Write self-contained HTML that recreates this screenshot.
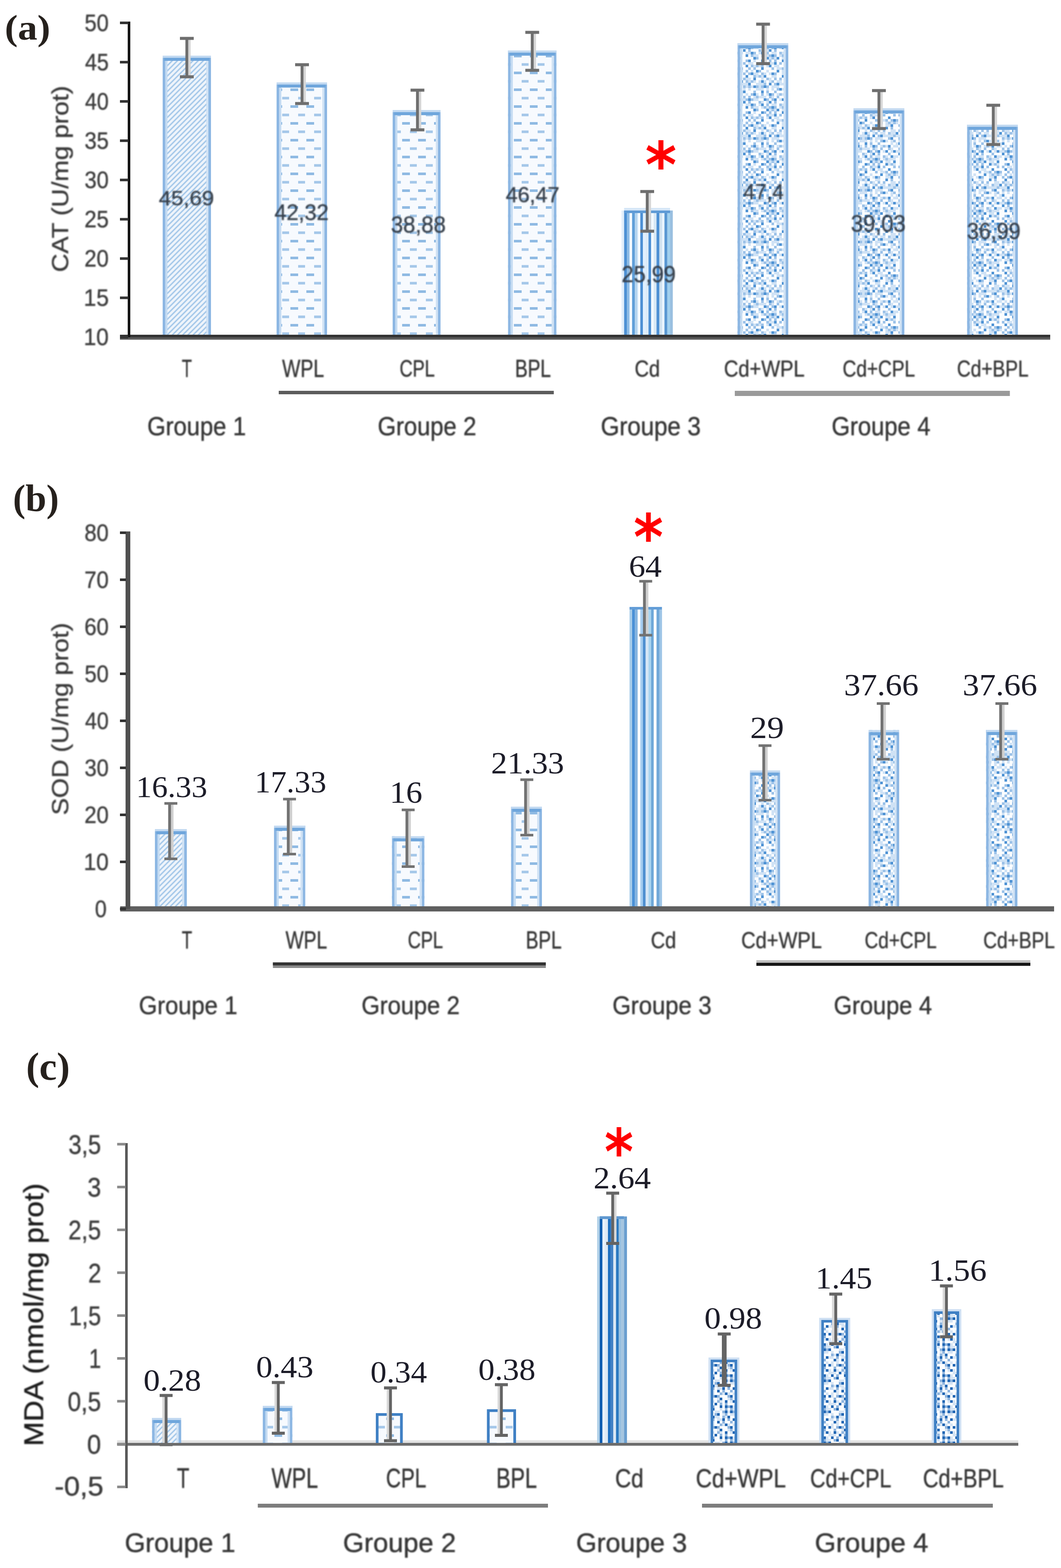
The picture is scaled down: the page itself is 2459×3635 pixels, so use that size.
<!DOCTYPE html>
<html lang="fr">
<head>
<meta charset="utf-8">
<title>CAT, SOD, MDA</title>
<style>
html,body{margin:0;padding:0;background:#fff}
body{width:2459px;height:3635px;overflow:hidden}
svg{display:block}
text{font-family:"Liberation Sans",sans-serif;font-size:100px;white-space:pre}
text.sf{font-family:"Liberation Serif",serif}
text.dv{font-family:"DejaVu Sans","Liberation Sans",sans-serif}
</style>
</head>
<body>
<svg width="2459" height="3635" viewBox="0 0 2459 3635">
<defs>
<filter id="soft" x="0" y="0" width="2459" height="3635" filterUnits="userSpaceOnUse" color-interpolation-filters="sRGB"><feGaussianBlur stdDeviation="1.8"/></filter>
<pattern id="p1" width="12" height="12" patternUnits="userSpaceOnUse">
<rect width="12" height="12" fill="#eef4fb"/>
<path d="M-3 3L3 -3M0 12L12 0M9 15L15 9" stroke="#a6c9ea" stroke-width="3.2"/>
</pattern>
<pattern id="p2" width="37" height="39" patternUnits="userSpaceOnUse" x="4" y="6">
<rect width="37" height="39" fill="#f7fafe"/>
<rect x="3" y="4" width="18" height="6" fill="#8fbae3"/>
<rect x="21" y="23.500" width="18" height="6" fill="#a4c7e9"/>
</pattern>
<pattern id="p4" width="120" height="120" patternUnits="userSpaceOnUse">
<rect width="120" height="120" fill="#fbfdff"/>
<rect x="6" y="0" width="6" height="6" fill="#9cc2e8"/>
<rect x="12" y="0" width="6" height="6" fill="#cfe2f5"/>
<rect x="24" y="0" width="6" height="6" fill="#4f93d4"/>
<rect x="30" y="0" width="6" height="6" fill="#cfe2f5"/>
<rect x="36" y="0" width="6" height="6" fill="#cfe2f5"/>
<rect x="48" y="0" width="6" height="6" fill="#cfe2f5"/>
<rect x="54" y="0" width="6" height="6" fill="#cfe2f5"/>
<rect x="60" y="0" width="6" height="6" fill="#4f93d4"/>
<rect x="66" y="0" width="6" height="6" fill="#9cc2e8"/>
<rect x="78" y="0" width="6" height="6" fill="#cfe2f5"/>
<rect x="84" y="0" width="6" height="6" fill="#4f93d4"/>
<rect x="96" y="0" width="6" height="6" fill="#9cc2e8"/>
<rect x="108" y="0" width="6" height="6" fill="#cfe2f5"/>
<rect x="114" y="0" width="6" height="6" fill="#cfe2f5"/>
<rect x="6" y="6" width="6" height="6" fill="#cfe2f5"/>
<rect x="12" y="6" width="6" height="6" fill="#9cc2e8"/>
<rect x="18" y="6" width="6" height="6" fill="#cfe2f5"/>
<rect x="24" y="6" width="6" height="6" fill="#cfe2f5"/>
<rect x="30" y="6" width="6" height="6" fill="#cfe2f5"/>
<rect x="48" y="6" width="6" height="6" fill="#4f93d4"/>
<rect x="60" y="6" width="6" height="6" fill="#9cc2e8"/>
<rect x="66" y="6" width="6" height="6" fill="#cfe2f5"/>
<rect x="72" y="6" width="6" height="6" fill="#cfe2f5"/>
<rect x="84" y="6" width="6" height="6" fill="#cfe2f5"/>
<rect x="90" y="6" width="6" height="6" fill="#9cc2e8"/>
<rect x="96" y="6" width="6" height="6" fill="#cfe2f5"/>
<rect x="102" y="6" width="6" height="6" fill="#9cc2e8"/>
<rect x="108" y="6" width="6" height="6" fill="#4f93d4"/>
<rect x="114" y="6" width="6" height="6" fill="#9cc2e8"/>
<rect x="0" y="12" width="6" height="6" fill="#4f93d4"/>
<rect x="12" y="12" width="6" height="6" fill="#cfe2f5"/>
<rect x="18" y="12" width="6" height="6" fill="#cfe2f5"/>
<rect x="30" y="12" width="6" height="6" fill="#4f93d4"/>
<rect x="66" y="12" width="6" height="6" fill="#4f93d4"/>
<rect x="72" y="12" width="6" height="6" fill="#9cc2e8"/>
<rect x="96" y="12" width="6" height="6" fill="#4f93d4"/>
<rect x="102" y="12" width="6" height="6" fill="#cfe2f5"/>
<rect x="108" y="12" width="6" height="6" fill="#9cc2e8"/>
<rect x="114" y="12" width="6" height="6" fill="#cfe2f5"/>
<rect x="12" y="18" width="6" height="6" fill="#4f93d4"/>
<rect x="18" y="18" width="6" height="6" fill="#cfe2f5"/>
<rect x="24" y="18" width="6" height="6" fill="#9cc2e8"/>
<rect x="30" y="18" width="6" height="6" fill="#cfe2f5"/>
<rect x="48" y="18" width="6" height="6" fill="#9cc2e8"/>
<rect x="54" y="18" width="6" height="6" fill="#4f93d4"/>
<rect x="66" y="18" width="6" height="6" fill="#cfe2f5"/>
<rect x="84" y="18" width="6" height="6" fill="#4f93d4"/>
<rect x="90" y="18" width="6" height="6" fill="#9cc2e8"/>
<rect x="102" y="18" width="6" height="6" fill="#9cc2e8"/>
<rect x="114" y="18" width="6" height="6" fill="#9cc2e8"/>
<rect x="6" y="24" width="6" height="6" fill="#9cc2e8"/>
<rect x="30" y="24" width="6" height="6" fill="#9cc2e8"/>
<rect x="42" y="24" width="6" height="6" fill="#9cc2e8"/>
<rect x="54" y="24" width="6" height="6" fill="#cfe2f5"/>
<rect x="60" y="24" width="6" height="6" fill="#cfe2f5"/>
<rect x="78" y="24" width="6" height="6" fill="#9cc2e8"/>
<rect x="96" y="24" width="6" height="6" fill="#9cc2e8"/>
<rect x="102" y="24" width="6" height="6" fill="#cfe2f5"/>
<rect x="108" y="24" width="6" height="6" fill="#cfe2f5"/>
<rect x="114" y="24" width="6" height="6" fill="#4f93d4"/>
<rect x="0" y="30" width="6" height="6" fill="#cfe2f5"/>
<rect x="18" y="30" width="6" height="6" fill="#4f93d4"/>
<rect x="48" y="30" width="6" height="6" fill="#4f93d4"/>
<rect x="60" y="30" width="6" height="6" fill="#9cc2e8"/>
<rect x="66" y="30" width="6" height="6" fill="#cfe2f5"/>
<rect x="72" y="30" width="6" height="6" fill="#9cc2e8"/>
<rect x="78" y="30" width="6" height="6" fill="#cfe2f5"/>
<rect x="84" y="30" width="6" height="6" fill="#9cc2e8"/>
<rect x="96" y="30" width="6" height="6" fill="#cfe2f5"/>
<rect x="102" y="30" width="6" height="6" fill="#4f93d4"/>
<rect x="114" y="30" width="6" height="6" fill="#cfe2f5"/>
<rect x="0" y="36" width="6" height="6" fill="#cfe2f5"/>
<rect x="6" y="36" width="6" height="6" fill="#cfe2f5"/>
<rect x="12" y="36" width="6" height="6" fill="#9cc2e8"/>
<rect x="24" y="36" width="6" height="6" fill="#9cc2e8"/>
<rect x="30" y="36" width="6" height="6" fill="#4f93d4"/>
<rect x="36" y="36" width="6" height="6" fill="#9cc2e8"/>
<rect x="54" y="36" width="6" height="6" fill="#9cc2e8"/>
<rect x="66" y="36" width="6" height="6" fill="#9cc2e8"/>
<rect x="84" y="36" width="6" height="6" fill="#4f93d4"/>
<rect x="108" y="36" width="6" height="6" fill="#9cc2e8"/>
<rect x="0" y="42" width="6" height="6" fill="#4f93d4"/>
<rect x="12" y="42" width="6" height="6" fill="#cfe2f5"/>
<rect x="18" y="42" width="6" height="6" fill="#9cc2e8"/>
<rect x="24" y="42" width="6" height="6" fill="#cfe2f5"/>
<rect x="30" y="42" width="6" height="6" fill="#9cc2e8"/>
<rect x="36" y="42" width="6" height="6" fill="#cfe2f5"/>
<rect x="48" y="42" width="6" height="6" fill="#9cc2e8"/>
<rect x="60" y="42" width="6" height="6" fill="#cfe2f5"/>
<rect x="72" y="42" width="6" height="6" fill="#4f93d4"/>
<rect x="78" y="42" width="6" height="6" fill="#9cc2e8"/>
<rect x="96" y="42" width="6" height="6" fill="#cfe2f5"/>
<rect x="12" y="48" width="6" height="6" fill="#cfe2f5"/>
<rect x="18" y="48" width="6" height="6" fill="#cfe2f5"/>
<rect x="24" y="48" width="6" height="6" fill="#4f93d4"/>
<rect x="42" y="48" width="6" height="6" fill="#9cc2e8"/>
<rect x="54" y="48" width="6" height="6" fill="#9cc2e8"/>
<rect x="60" y="48" width="6" height="6" fill="#4f93d4"/>
<rect x="66" y="48" width="6" height="6" fill="#cfe2f5"/>
<rect x="72" y="48" width="6" height="6" fill="#cfe2f5"/>
<rect x="84" y="48" width="6" height="6" fill="#9cc2e8"/>
<rect x="90" y="48" width="6" height="6" fill="#cfe2f5"/>
<rect x="102" y="48" width="6" height="6" fill="#cfe2f5"/>
<rect x="108" y="48" width="6" height="6" fill="#4f93d4"/>
<rect x="114" y="48" width="6" height="6" fill="#9cc2e8"/>
<rect x="12" y="54" width="6" height="6" fill="#4f93d4"/>
<rect x="24" y="54" width="6" height="6" fill="#9cc2e8"/>
<rect x="48" y="54" width="6" height="6" fill="#4f93d4"/>
<rect x="66" y="54" width="6" height="6" fill="#9cc2e8"/>
<rect x="72" y="54" width="6" height="6" fill="#cfe2f5"/>
<rect x="78" y="54" width="6" height="6" fill="#9cc2e8"/>
<rect x="84" y="54" width="6" height="6" fill="#cfe2f5"/>
<rect x="90" y="54" width="6" height="6" fill="#4f93d4"/>
<rect x="108" y="54" width="6" height="6" fill="#cfe2f5"/>
<rect x="114" y="54" width="6" height="6" fill="#cfe2f5"/>
<rect x="6" y="60" width="6" height="6" fill="#9cc2e8"/>
<rect x="24" y="60" width="6" height="6" fill="#cfe2f5"/>
<rect x="30" y="60" width="6" height="6" fill="#cfe2f5"/>
<rect x="42" y="60" width="6" height="6" fill="#9cc2e8"/>
<rect x="48" y="60" width="6" height="6" fill="#cfe2f5"/>
<rect x="54" y="60" width="6" height="6" fill="#cfe2f5"/>
<rect x="66" y="60" width="6" height="6" fill="#4f93d4"/>
<rect x="84" y="60" width="6" height="6" fill="#cfe2f5"/>
<rect x="96" y="60" width="6" height="6" fill="#9cc2e8"/>
<rect x="102" y="60" width="6" height="6" fill="#cfe2f5"/>
<rect x="114" y="60" width="6" height="6" fill="#9cc2e8"/>
<rect x="0" y="66" width="6" height="6" fill="#cfe2f5"/>
<rect x="6" y="66" width="6" height="6" fill="#cfe2f5"/>
<rect x="18" y="66" width="6" height="6" fill="#9cc2e8"/>
<rect x="24" y="66" width="6" height="6" fill="#cfe2f5"/>
<rect x="30" y="66" width="6" height="6" fill="#cfe2f5"/>
<rect x="36" y="66" width="6" height="6" fill="#4f93d4"/>
<rect x="48" y="66" width="6" height="6" fill="#9cc2e8"/>
<rect x="54" y="66" width="6" height="6" fill="#cfe2f5"/>
<rect x="60" y="66" width="6" height="6" fill="#9cc2e8"/>
<rect x="66" y="66" width="6" height="6" fill="#cfe2f5"/>
<rect x="78" y="66" width="6" height="6" fill="#cfe2f5"/>
<rect x="84" y="66" width="6" height="6" fill="#4f93d4"/>
<rect x="90" y="66" width="6" height="6" fill="#cfe2f5"/>
<rect x="102" y="66" width="6" height="6" fill="#cfe2f5"/>
<rect x="108" y="66" width="6" height="6" fill="#9cc2e8"/>
<rect x="0" y="72" width="6" height="6" fill="#4f93d4"/>
<rect x="6" y="72" width="6" height="6" fill="#cfe2f5"/>
<rect x="12" y="72" width="6" height="6" fill="#cfe2f5"/>
<rect x="18" y="72" width="6" height="6" fill="#cfe2f5"/>
<rect x="24" y="72" width="6" height="6" fill="#cfe2f5"/>
<rect x="30" y="72" width="6" height="6" fill="#9cc2e8"/>
<rect x="36" y="72" width="6" height="6" fill="#cfe2f5"/>
<rect x="42" y="72" width="6" height="6" fill="#cfe2f5"/>
<rect x="48" y="72" width="6" height="6" fill="#cfe2f5"/>
<rect x="54" y="72" width="6" height="6" fill="#4f93d4"/>
<rect x="72" y="72" width="6" height="6" fill="#cfe2f5"/>
<rect x="78" y="72" width="6" height="6" fill="#cfe2f5"/>
<rect x="84" y="72" width="6" height="6" fill="#cfe2f5"/>
<rect x="90" y="72" width="6" height="6" fill="#9cc2e8"/>
<rect x="102" y="72" width="6" height="6" fill="#4f93d4"/>
<rect x="114" y="72" width="6" height="6" fill="#9cc2e8"/>
<rect x="0" y="78" width="6" height="6" fill="#cfe2f5"/>
<rect x="18" y="78" width="6" height="6" fill="#9cc2e8"/>
<rect x="24" y="78" width="6" height="6" fill="#4f93d4"/>
<rect x="42" y="78" width="6" height="6" fill="#9cc2e8"/>
<rect x="48" y="78" width="6" height="6" fill="#cfe2f5"/>
<rect x="54" y="78" width="6" height="6" fill="#9cc2e8"/>
<rect x="60" y="78" width="6" height="6" fill="#cfe2f5"/>
<rect x="66" y="78" width="6" height="6" fill="#4f93d4"/>
<rect x="72" y="78" width="6" height="6" fill="#9cc2e8"/>
<rect x="78" y="78" width="6" height="6" fill="#cfe2f5"/>
<rect x="84" y="78" width="6" height="6" fill="#9cc2e8"/>
<rect x="90" y="78" width="6" height="6" fill="#4f93d4"/>
<rect x="96" y="78" width="6" height="6" fill="#9cc2e8"/>
<rect x="108" y="78" width="6" height="6" fill="#cfe2f5"/>
<rect x="114" y="78" width="6" height="6" fill="#cfe2f5"/>
<rect x="0" y="84" width="6" height="6" fill="#9cc2e8"/>
<rect x="6" y="84" width="6" height="6" fill="#4f93d4"/>
<rect x="12" y="84" width="6" height="6" fill="#cfe2f5"/>
<rect x="24" y="84" width="6" height="6" fill="#cfe2f5"/>
<rect x="30" y="84" width="6" height="6" fill="#9cc2e8"/>
<rect x="42" y="84" width="6" height="6" fill="#cfe2f5"/>
<rect x="54" y="84" width="6" height="6" fill="#cfe2f5"/>
<rect x="72" y="84" width="6" height="6" fill="#cfe2f5"/>
<rect x="78" y="84" width="6" height="6" fill="#cfe2f5"/>
<rect x="84" y="84" width="6" height="6" fill="#cfe2f5"/>
<rect x="96" y="84" width="6" height="6" fill="#cfe2f5"/>
<rect x="108" y="84" width="6" height="6" fill="#cfe2f5"/>
<rect x="24" y="90" width="6" height="6" fill="#cfe2f5"/>
<rect x="36" y="90" width="6" height="6" fill="#cfe2f5"/>
<rect x="42" y="90" width="6" height="6" fill="#4f93d4"/>
<rect x="66" y="90" width="6" height="6" fill="#9cc2e8"/>
<rect x="84" y="90" width="6" height="6" fill="#4f93d4"/>
<rect x="96" y="90" width="6" height="6" fill="#9cc2e8"/>
<rect x="114" y="90" width="6" height="6" fill="#9cc2e8"/>
<rect x="0" y="96" width="6" height="6" fill="#cfe2f5"/>
<rect x="6" y="96" width="6" height="6" fill="#9cc2e8"/>
<rect x="12" y="96" width="6" height="6" fill="#cfe2f5"/>
<rect x="18" y="96" width="6" height="6" fill="#4f93d4"/>
<rect x="30" y="96" width="6" height="6" fill="#cfe2f5"/>
<rect x="36" y="96" width="6" height="6" fill="#cfe2f5"/>
<rect x="48" y="96" width="6" height="6" fill="#cfe2f5"/>
<rect x="60" y="96" width="6" height="6" fill="#9cc2e8"/>
<rect x="66" y="96" width="6" height="6" fill="#4f93d4"/>
<rect x="72" y="96" width="6" height="6" fill="#cfe2f5"/>
<rect x="84" y="96" width="6" height="6" fill="#9cc2e8"/>
<rect x="96" y="96" width="6" height="6" fill="#cfe2f5"/>
<rect x="102" y="96" width="6" height="6" fill="#4f93d4"/>
<rect x="108" y="96" width="6" height="6" fill="#9cc2e8"/>
<rect x="0" y="102" width="6" height="6" fill="#9cc2e8"/>
<rect x="18" y="102" width="6" height="6" fill="#9cc2e8"/>
<rect x="24" y="102" width="6" height="6" fill="#cfe2f5"/>
<rect x="42" y="102" width="6" height="6" fill="#9cc2e8"/>
<rect x="54" y="102" width="6" height="6" fill="#9cc2e8"/>
<rect x="66" y="102" width="6" height="6" fill="#cfe2f5"/>
<rect x="72" y="102" width="6" height="6" fill="#9cc2e8"/>
<rect x="78" y="102" width="6" height="6" fill="#cfe2f5"/>
<rect x="84" y="102" width="6" height="6" fill="#cfe2f5"/>
<rect x="90" y="102" width="6" height="6" fill="#cfe2f5"/>
<rect x="102" y="102" width="6" height="6" fill="#9cc2e8"/>
<rect x="108" y="102" width="6" height="6" fill="#cfe2f5"/>
<rect x="6" y="108" width="6" height="6" fill="#cfe2f5"/>
<rect x="12" y="108" width="6" height="6" fill="#4f93d4"/>
<rect x="24" y="108" width="6" height="6" fill="#cfe2f5"/>
<rect x="30" y="108" width="6" height="6" fill="#4f93d4"/>
<rect x="36" y="108" width="6" height="6" fill="#cfe2f5"/>
<rect x="42" y="108" width="6" height="6" fill="#cfe2f5"/>
<rect x="48" y="108" width="6" height="6" fill="#9cc2e8"/>
<rect x="54" y="108" width="6" height="6" fill="#4f93d4"/>
<rect x="60" y="108" width="6" height="6" fill="#9cc2e8"/>
<rect x="66" y="108" width="6" height="6" fill="#cfe2f5"/>
<rect x="72" y="108" width="6" height="6" fill="#cfe2f5"/>
<rect x="90" y="108" width="6" height="6" fill="#4f93d4"/>
<rect x="96" y="108" width="6" height="6" fill="#9cc2e8"/>
<rect x="108" y="108" width="6" height="6" fill="#9cc2e8"/>
<rect x="114" y="108" width="6" height="6" fill="#4f93d4"/>
<rect x="18" y="114" width="6" height="6" fill="#9cc2e8"/>
<rect x="42" y="114" width="6" height="6" fill="#4f93d4"/>
<rect x="54" y="114" width="6" height="6" fill="#9cc2e8"/>
<rect x="78" y="114" width="6" height="6" fill="#9cc2e8"/>
<rect x="84" y="114" width="6" height="6" fill="#cfe2f5"/>
<rect x="96" y="114" width="6" height="6" fill="#cfe2f5"/>
<rect x="102" y="114" width="6" height="6" fill="#4f93d4"/>
<rect x="114" y="114" width="6" height="6" fill="#9cc2e8"/>
</pattern>
<pattern id="p4c" width="72" height="72" patternUnits="userSpaceOnUse">
<rect width="72" height="72" fill="#fbfdff"/>
<rect x="6" y="0" width="6" height="6" fill="#d5e4f4"/>
<rect x="12" y="0" width="6" height="6" fill="#2267b4"/>
<rect x="30" y="0" width="6" height="6" fill="#d5e4f4"/>
<rect x="36" y="0" width="6" height="6" fill="#8fb5de"/>
<rect x="60" y="0" width="6" height="6" fill="#8fb5de"/>
<rect x="6" y="6" width="6" height="6" fill="#8fb5de"/>
<rect x="12" y="6" width="6" height="6" fill="#d5e4f4"/>
<rect x="24" y="6" width="6" height="6" fill="#2267b4"/>
<rect x="36" y="6" width="6" height="6" fill="#d5e4f4"/>
<rect x="42" y="6" width="6" height="6" fill="#2267b4"/>
<rect x="48" y="6" width="6" height="6" fill="#d5e4f4"/>
<rect x="60" y="6" width="6" height="6" fill="#2267b4"/>
<rect x="66" y="6" width="6" height="6" fill="#d5e4f4"/>
<rect x="0" y="12" width="6" height="6" fill="#2267b4"/>
<rect x="12" y="12" width="6" height="6" fill="#8fb5de"/>
<rect x="24" y="12" width="6" height="6" fill="#8fb5de"/>
<rect x="48" y="12" width="6" height="6" fill="#d5e4f4"/>
<rect x="54" y="12" width="6" height="6" fill="#d5e4f4"/>
<rect x="60" y="12" width="6" height="6" fill="#d5e4f4"/>
<rect x="12" y="18" width="6" height="6" fill="#2267b4"/>
<rect x="24" y="18" width="6" height="6" fill="#2267b4"/>
<rect x="30" y="18" width="6" height="6" fill="#8fb5de"/>
<rect x="36" y="18" width="6" height="6" fill="#2267b4"/>
<rect x="42" y="18" width="6" height="6" fill="#d5e4f4"/>
<rect x="54" y="18" width="6" height="6" fill="#2267b4"/>
<rect x="66" y="18" width="6" height="6" fill="#8fb5de"/>
<rect x="12" y="24" width="6" height="6" fill="#d5e4f4"/>
<rect x="24" y="24" width="6" height="6" fill="#8fb5de"/>
<rect x="36" y="24" width="6" height="6" fill="#8fb5de"/>
<rect x="42" y="24" width="6" height="6" fill="#d5e4f4"/>
<rect x="48" y="24" width="6" height="6" fill="#d5e4f4"/>
<rect x="60" y="24" width="6" height="6" fill="#8fb5de"/>
<rect x="66" y="24" width="6" height="6" fill="#2267b4"/>
<rect x="0" y="30" width="6" height="6" fill="#d5e4f4"/>
<rect x="6" y="30" width="6" height="6" fill="#d5e4f4"/>
<rect x="18" y="30" width="6" height="6" fill="#8fb5de"/>
<rect x="24" y="30" width="6" height="6" fill="#2267b4"/>
<rect x="30" y="30" width="6" height="6" fill="#d5e4f4"/>
<rect x="36" y="30" width="6" height="6" fill="#2267b4"/>
<rect x="42" y="30" width="6" height="6" fill="#8fb5de"/>
<rect x="48" y="30" width="6" height="6" fill="#2267b4"/>
<rect x="0" y="36" width="6" height="6" fill="#8fb5de"/>
<rect x="6" y="36" width="6" height="6" fill="#2267b4"/>
<rect x="18" y="36" width="6" height="6" fill="#d5e4f4"/>
<rect x="24" y="36" width="6" height="6" fill="#8fb5de"/>
<rect x="36" y="36" width="6" height="6" fill="#d5e4f4"/>
<rect x="42" y="36" width="6" height="6" fill="#d5e4f4"/>
<rect x="54" y="36" width="6" height="6" fill="#d5e4f4"/>
<rect x="0" y="42" width="6" height="6" fill="#d5e4f4"/>
<rect x="6" y="42" width="6" height="6" fill="#d5e4f4"/>
<rect x="18" y="42" width="6" height="6" fill="#8fb5de"/>
<rect x="24" y="42" width="6" height="6" fill="#d5e4f4"/>
<rect x="30" y="42" width="6" height="6" fill="#2267b4"/>
<rect x="54" y="42" width="6" height="6" fill="#8fb5de"/>
<rect x="60" y="42" width="6" height="6" fill="#d5e4f4"/>
<rect x="66" y="42" width="6" height="6" fill="#2267b4"/>
<rect x="6" y="48" width="6" height="6" fill="#d5e4f4"/>
<rect x="12" y="48" width="6" height="6" fill="#d5e4f4"/>
<rect x="18" y="48" width="6" height="6" fill="#2267b4"/>
<rect x="30" y="48" width="6" height="6" fill="#8fb5de"/>
<rect x="42" y="48" width="6" height="6" fill="#2267b4"/>
<rect x="48" y="48" width="6" height="6" fill="#d5e4f4"/>
<rect x="54" y="48" width="6" height="6" fill="#d5e4f4"/>
<rect x="66" y="48" width="6" height="6" fill="#8fb5de"/>
<rect x="6" y="54" width="6" height="6" fill="#2267b4"/>
<rect x="18" y="54" width="6" height="6" fill="#8fb5de"/>
<rect x="36" y="54" width="6" height="6" fill="#8fb5de"/>
<rect x="60" y="54" width="6" height="6" fill="#2267b4"/>
<rect x="66" y="54" width="6" height="6" fill="#d5e4f4"/>
<rect x="12" y="60" width="6" height="6" fill="#8fb5de"/>
<rect x="18" y="60" width="6" height="6" fill="#d5e4f4"/>
<rect x="24" y="60" width="6" height="6" fill="#2267b4"/>
<rect x="30" y="60" width="6" height="6" fill="#d5e4f4"/>
<rect x="42" y="60" width="6" height="6" fill="#d5e4f4"/>
<rect x="54" y="60" width="6" height="6" fill="#d5e4f4"/>
<rect x="66" y="60" width="6" height="6" fill="#d5e4f4"/>
<rect x="0" y="66" width="6" height="6" fill="#2267b4"/>
<rect x="6" y="66" width="6" height="6" fill="#8fb5de"/>
<rect x="30" y="66" width="6" height="6" fill="#8fb5de"/>
<rect x="36" y="66" width="6" height="6" fill="#2267b4"/>
<rect x="48" y="66" width="6" height="6" fill="#2267b4"/>
<rect x="54" y="66" width="6" height="6" fill="#d5e4f4"/>
<rect x="66" y="66" width="6" height="6" fill="#8fb5de"/>
</pattern>
</defs>
<rect width="2459" height="3635" fill="#fff"/>
<g id="bars">
<rect x="271.5" y="3339" width="2088.5" height="6.5" fill="#e2e2e2"/>
<rect x="377.0" y="129.0" width="112.0" height="652.5" fill="url(#p1)"/>
<rect x="377.0" y="129.0" width="6.0" height="652.5" fill="#8db7e3"/>
<rect x="383.0" y="135.0" width="5.0" height="646.5" fill="#c4dbf2"/>
<rect x="483.0" y="129.0" width="6.0" height="652.5" fill="#8db7e3"/>
<rect x="478.0" y="135.0" width="5.0" height="646.5" fill="#d0e2f4"/>
<rect x="377.0" y="129.0" width="112.0" height="5.0" fill="#c2d9f1"/>
<rect x="380.0" y="134.0" width="106.0" height="7.0" fill="#6fa6dc"/>
<rect x="641.0" y="191.0" width="117.0" height="590.5" fill="url(#p2)"/>
<rect x="641.0" y="191.0" width="6.0" height="590.5" fill="#8db7e3"/>
<rect x="647.0" y="197.0" width="5.0" height="584.5" fill="#c4dbf2"/>
<rect x="752.0" y="191.0" width="6.0" height="590.5" fill="#8db7e3"/>
<rect x="747.0" y="197.0" width="5.0" height="584.5" fill="#d0e2f4"/>
<rect x="641.0" y="191.0" width="117.0" height="5.0" fill="#c2d9f1"/>
<rect x="644.0" y="196.0" width="111.0" height="7.0" fill="#6fa6dc"/>
<rect x="910.0" y="255.0" width="111.0" height="526.5" fill="url(#p2)"/>
<rect x="910.0" y="255.0" width="6.0" height="526.5" fill="#8db7e3"/>
<rect x="916.0" y="261.0" width="5.0" height="520.5" fill="#c4dbf2"/>
<rect x="1015.0" y="255.0" width="6.0" height="526.5" fill="#8db7e3"/>
<rect x="1010.0" y="261.0" width="5.0" height="520.5" fill="#d0e2f4"/>
<rect x="910.0" y="255.0" width="111.0" height="5.0" fill="#c2d9f1"/>
<rect x="913.0" y="260.0" width="105.0" height="7.0" fill="#6fa6dc"/>
<rect x="1177.5" y="117.0" width="112.0" height="664.5" fill="url(#p2)"/>
<rect x="1177.5" y="117.0" width="6.0" height="664.5" fill="#8db7e3"/>
<rect x="1183.5" y="123.0" width="5.0" height="658.5" fill="#c4dbf2"/>
<rect x="1283.5" y="117.0" width="6.0" height="664.5" fill="#8db7e3"/>
<rect x="1278.5" y="123.0" width="5.0" height="658.5" fill="#d0e2f4"/>
<rect x="1177.5" y="117.0" width="112.0" height="5.0" fill="#c2d9f1"/>
<rect x="1180.5" y="122.0" width="106.0" height="7.0" fill="#6fa6dc"/>
<rect x="1709.5" y="100.0" width="117.5" height="681.5" fill="url(#p4)"/>
<rect x="1709.5" y="100.0" width="6.0" height="681.5" fill="#8db7e3"/>
<rect x="1715.5" y="106.0" width="5.0" height="675.5" fill="#c4dbf2"/>
<rect x="1821.0" y="100.0" width="6.0" height="681.5" fill="#8db7e3"/>
<rect x="1816.0" y="106.0" width="5.0" height="675.5" fill="#d0e2f4"/>
<rect x="1709.5" y="100.0" width="117.5" height="5.0" fill="#c2d9f1"/>
<rect x="1712.5" y="105.0" width="111.5" height="7.0" fill="#6fa6dc"/>
<rect x="1978.0" y="251.0" width="118.0" height="530.5" fill="url(#p4)"/>
<rect x="1978.0" y="251.0" width="6.0" height="530.5" fill="#8db7e3"/>
<rect x="1984.0" y="257.0" width="5.0" height="524.5" fill="#c4dbf2"/>
<rect x="2090.0" y="251.0" width="6.0" height="530.5" fill="#8db7e3"/>
<rect x="2085.0" y="257.0" width="5.0" height="524.5" fill="#d0e2f4"/>
<rect x="1978.0" y="251.0" width="118.0" height="5.0" fill="#c2d9f1"/>
<rect x="1981.0" y="256.0" width="112.0" height="7.0" fill="#6fa6dc"/>
<rect x="2241.5" y="289.0" width="117.5" height="492.5" fill="url(#p4)"/>
<rect x="2241.5" y="289.0" width="6.0" height="492.5" fill="#8db7e3"/>
<rect x="2247.5" y="295.0" width="5.0" height="486.5" fill="#c4dbf2"/>
<rect x="2353.0" y="289.0" width="6.0" height="492.5" fill="#8db7e3"/>
<rect x="2348.0" y="295.0" width="5.0" height="486.5" fill="#d0e2f4"/>
<rect x="2241.5" y="289.0" width="117.5" height="5.0" fill="#c2d9f1"/>
<rect x="2244.5" y="294.0" width="111.5" height="7.0" fill="#6fa6dc"/>
<rect x="1440.4" y="488.0" width="6.4" height="293.5" fill="#e3effb"/>
<rect x="1446.5" y="488.0" width="6.6" height="293.5" fill="#4d90d4"/>
<rect x="1452.8" y="488.0" width="6.5" height="293.5" fill="#8fbde6"/>
<rect x="1459.0" y="488.0" width="6.3" height="293.5" fill="#f2f9ff"/>
<rect x="1465.0" y="488.0" width="6.7" height="293.5" fill="#5f9fd8"/>
<rect x="1471.4" y="488.0" width="6.6" height="293.5" fill="#b5d5ef"/>
<rect x="1477.7" y="488.0" width="6.6" height="293.5" fill="#f2f9ff"/>
<rect x="1484.0" y="488.0" width="6.3" height="293.5" fill="#4d90d4"/>
<rect x="1490.0" y="488.0" width="6.6" height="293.5" fill="#e0f0ff"/>
<rect x="1496.3" y="488.0" width="7.0" height="293.5" fill="#dcebf8"/>
<rect x="1503.0" y="488.0" width="6.3" height="293.5" fill="#4d90d4"/>
<rect x="1509.0" y="488.0" width="6.3" height="293.5" fill="#f2f9ff"/>
<rect x="1515.0" y="488.0" width="6.9" height="293.5" fill="#d8e8f5"/>
<rect x="1521.6" y="488.0" width="6.7" height="293.5" fill="#4d90d4"/>
<rect x="1528.0" y="488.0" width="6.3" height="293.5" fill="#cde0ee"/>
<rect x="1534.0" y="488.0" width="6.3" height="293.5" fill="#e8f4ff"/>
<rect x="1540.0" y="488.0" width="6.8" height="293.5" fill="#5a98d2"/>
<rect x="1546.5" y="488.0" width="6.8" height="293.5" fill="#a0d0ee"/>
<rect x="1553.0" y="488.0" width="6.3" height="293.5" fill="#9abfe0"/>
<rect x="1446.5" y="482.0" width="106.5" height="6.0" fill="#d5e6f7"/>
<rect x="1446.5" y="488.0" width="106.5" height="6.0" fill="#5f9bd6"/>
<rect x="359.0" y="1922.0" width="74.0" height="185.0" fill="url(#p1)"/>
<rect x="359.0" y="1922.0" width="6.0" height="185.0" fill="#8db7e3"/>
<rect x="365.0" y="1928.0" width="5.0" height="179.0" fill="#c4dbf2"/>
<rect x="427.0" y="1922.0" width="6.0" height="185.0" fill="#8db7e3"/>
<rect x="422.0" y="1928.0" width="5.0" height="179.0" fill="#d0e2f4"/>
<rect x="359.0" y="1922.0" width="74.0" height="5.0" fill="#c2d9f1"/>
<rect x="362.0" y="1927.0" width="68.0" height="7.0" fill="#6fa6dc"/>
<rect x="635.0" y="1914.0" width="72.5" height="193.0" fill="url(#p2)"/>
<rect x="635.0" y="1914.0" width="6.0" height="193.0" fill="#8db7e3"/>
<rect x="641.0" y="1920.0" width="5.0" height="187.0" fill="#c4dbf2"/>
<rect x="701.5" y="1914.0" width="6.0" height="193.0" fill="#8db7e3"/>
<rect x="696.5" y="1920.0" width="5.0" height="187.0" fill="#d0e2f4"/>
<rect x="635.0" y="1914.0" width="72.5" height="5.0" fill="#c2d9f1"/>
<rect x="638.0" y="1919.0" width="66.5" height="7.0" fill="#6fa6dc"/>
<rect x="908.5" y="1938.5" width="75.0" height="168.5" fill="url(#p2)"/>
<rect x="908.5" y="1938.5" width="6.0" height="168.5" fill="#8db7e3"/>
<rect x="914.5" y="1944.5" width="5.0" height="162.5" fill="#c4dbf2"/>
<rect x="977.5" y="1938.5" width="6.0" height="168.5" fill="#8db7e3"/>
<rect x="972.5" y="1944.5" width="5.0" height="162.5" fill="#d0e2f4"/>
<rect x="908.5" y="1938.5" width="75.0" height="5.0" fill="#c2d9f1"/>
<rect x="911.5" y="1943.5" width="69.0" height="7.0" fill="#6fa6dc"/>
<rect x="1184.5" y="1870.0" width="71.5" height="237.0" fill="url(#p2)"/>
<rect x="1184.5" y="1870.0" width="6.0" height="237.0" fill="#8db7e3"/>
<rect x="1190.5" y="1876.0" width="5.0" height="231.0" fill="#c4dbf2"/>
<rect x="1250.0" y="1870.0" width="6.0" height="237.0" fill="#8db7e3"/>
<rect x="1245.0" y="1876.0" width="5.0" height="231.0" fill="#d0e2f4"/>
<rect x="1184.5" y="1870.0" width="71.5" height="5.0" fill="#c2d9f1"/>
<rect x="1187.5" y="1875.0" width="65.5" height="7.0" fill="#6fa6dc"/>
<rect x="1738.0" y="1786.0" width="70.0" height="321.0" fill="url(#p4)"/>
<rect x="1738.0" y="1786.0" width="6.0" height="321.0" fill="#8db7e3"/>
<rect x="1744.0" y="1792.0" width="5.0" height="315.0" fill="#c4dbf2"/>
<rect x="1802.0" y="1786.0" width="6.0" height="321.0" fill="#8db7e3"/>
<rect x="1797.0" y="1792.0" width="5.0" height="315.0" fill="#d0e2f4"/>
<rect x="1738.0" y="1786.0" width="70.0" height="5.0" fill="#c2d9f1"/>
<rect x="1741.0" y="1791.0" width="64.0" height="7.0" fill="#6fa6dc"/>
<rect x="2013.0" y="1692.5" width="71.0" height="414.5" fill="url(#p4)"/>
<rect x="2013.0" y="1692.5" width="6.0" height="414.5" fill="#8db7e3"/>
<rect x="2019.0" y="1698.5" width="5.0" height="408.5" fill="#c4dbf2"/>
<rect x="2078.0" y="1692.5" width="6.0" height="414.5" fill="#8db7e3"/>
<rect x="2073.0" y="1698.5" width="5.0" height="408.5" fill="#d0e2f4"/>
<rect x="2013.0" y="1692.5" width="71.0" height="5.0" fill="#c2d9f1"/>
<rect x="2016.0" y="1697.5" width="65.0" height="7.0" fill="#6fa6dc"/>
<rect x="2285.5" y="1692.0" width="72.5" height="415.0" fill="url(#p4)"/>
<rect x="2285.5" y="1692.0" width="6.0" height="415.0" fill="#8db7e3"/>
<rect x="2291.5" y="1698.0" width="5.0" height="409.0" fill="#c4dbf2"/>
<rect x="2352.0" y="1692.0" width="6.0" height="415.0" fill="#8db7e3"/>
<rect x="2347.0" y="1698.0" width="5.0" height="409.0" fill="#d0e2f4"/>
<rect x="2285.5" y="1692.0" width="72.5" height="5.0" fill="#c2d9f1"/>
<rect x="2288.5" y="1697.0" width="66.5" height="7.0" fill="#6fa6dc"/>
<rect x="1459.0" y="1407.0" width="6.3" height="700.0" fill="#a8cdea"/>
<rect x="1465.0" y="1407.0" width="6.7" height="700.0" fill="#4a90d6"/>
<rect x="1471.4" y="1407.0" width="6.7" height="700.0" fill="#85b4e0"/>
<rect x="1477.8" y="1407.0" width="6.5" height="700.0" fill="#fbfdff"/>
<rect x="1484.0" y="1407.0" width="6.3" height="700.0" fill="#a5cdf0"/>
<rect x="1490.0" y="1407.0" width="6.6" height="700.0" fill="#4f8fd0"/>
<rect x="1496.3" y="1407.0" width="7.0" height="700.0" fill="#d5e6f5"/>
<rect x="1503.0" y="1407.0" width="6.3" height="700.0" fill="#a8d4f0"/>
<rect x="1509.0" y="1407.0" width="6.3" height="700.0" fill="#6fa8d8"/>
<rect x="1515.0" y="1407.0" width="6.9" height="700.0" fill="#fbfdff"/>
<rect x="1521.6" y="1407.0" width="6.7" height="700.0" fill="#70a8d8"/>
<rect x="1528.0" y="1407.0" width="6.3" height="700.0" fill="#9dc4e6"/>
<rect x="1459.0" y="1407.0" width="75.0" height="6.0" fill="#639dd7"/>
<rect x="352.5" y="3287.0" width="67.5" height="60.5" fill="url(#p1)"/>
<rect x="352.5" y="3287.0" width="6.0" height="60.5" fill="#8db7e3"/>
<rect x="358.5" y="3293.0" width="5.0" height="54.5" fill="#c4dbf2"/>
<rect x="414.0" y="3287.0" width="6.0" height="60.5" fill="#8db7e3"/>
<rect x="409.0" y="3293.0" width="5.0" height="54.5" fill="#d0e2f4"/>
<rect x="352.5" y="3287.0" width="67.5" height="5.0" fill="#c2d9f1"/>
<rect x="355.5" y="3292.0" width="61.5" height="7.0" fill="#6fa6dc"/>
<rect x="609.0" y="3259.0" width="68.5" height="88.5" fill="url(#p2)"/>
<rect x="609.0" y="3259.0" width="6.0" height="88.5" fill="#8db7e3"/>
<rect x="615.0" y="3265.0" width="5.0" height="82.5" fill="#c4dbf2"/>
<rect x="671.5" y="3259.0" width="6.0" height="88.5" fill="#8db7e3"/>
<rect x="666.5" y="3265.0" width="5.0" height="82.5" fill="#d0e2f4"/>
<rect x="609.0" y="3259.0" width="68.5" height="5.0" fill="#c2d9f1"/>
<rect x="612.0" y="3264.0" width="62.5" height="7.0" fill="#6fa6dc"/>
<rect x="871.0" y="3276.0" width="62.5" height="71.5" fill="#3f80c4"/>
<rect x="877.3" y="3282.3" width="49.9" height="65.2" fill="url(#p2)"/>
<rect x="1128.5" y="3267.0" width="67.5" height="80.5" fill="#3f80c4"/>
<rect x="1134.8" y="3273.3" width="54.9" height="74.2" fill="url(#p2)"/>
<rect x="1642.0" y="3147.0" width="71.5" height="200.5" fill="#cfe0f3"/>
<rect x="1647.0" y="3152.0" width="61.5" height="195.5" fill="#3f80c4"/>
<rect x="1653.0" y="3158.0" width="49.5" height="189.5" fill="url(#p4c)"/>
<rect x="1898.5" y="3055.0" width="72.0" height="292.5" fill="#cfe0f3"/>
<rect x="1903.5" y="3060.0" width="62.0" height="287.5" fill="#3f80c4"/>
<rect x="1909.5" y="3066.0" width="50.0" height="281.5" fill="url(#p4c)"/>
<rect x="2159.5" y="3035.0" width="68.5" height="312.5" fill="#cfe0f3"/>
<rect x="2164.5" y="3040.0" width="58.5" height="307.5" fill="#3f80c4"/>
<rect x="2170.5" y="3046.0" width="46.5" height="301.5" fill="url(#p4c)"/>
<rect x="1384.0" y="2820.0" width="6.3" height="527.5" fill="#b0d0e8"/>
<rect x="1390.0" y="2820.0" width="6.5" height="527.5" fill="#0f5db1"/>
<rect x="1396.2" y="2820.0" width="6.7" height="527.5" fill="#e8f0fa"/>
<rect x="1402.6" y="2820.0" width="6.7" height="527.5" fill="#dce8f4"/>
<rect x="1409.0" y="2820.0" width="6.6" height="527.5" fill="#1f6fc0"/>
<rect x="1415.3" y="2820.0" width="6.4" height="527.5" fill="#3f7fc4"/>
<rect x="1421.4" y="2820.0" width="6.6" height="527.5" fill="#dce8f4"/>
<rect x="1427.7" y="2820.0" width="6.4" height="527.5" fill="#2a78c0"/>
<rect x="1433.8" y="2820.0" width="6.8" height="527.5" fill="#98c0e0"/>
<rect x="1440.3" y="2820.0" width="6.4" height="527.5" fill="#a5c5e0"/>
<rect x="1446.4" y="2820.0" width="6.7" height="527.5" fill="#6a9fd0"/>
<rect x="1390.0" y="2819.5" width="56.4" height="6.5" fill="#5f98d0"/>
</g>
<g id="lines">
<rect x="435.8" y="91.0" width="6.0" height="85.0" fill="#d6d6d6"/>
<rect x="429.7" y="89.0" width="6.6" height="89.0" fill="#6e6e6e"/>
<rect x="417.0" y="85.5" width="32.0" height="7.0" fill="#6e6e6e"/>
<rect x="417.0" y="174.5" width="32.0" height="7.0" fill="#6e6e6e"/>
<rect x="702.8" y="152.0" width="6.0" height="86.0" fill="#d6d6d6"/>
<rect x="696.7" y="150.0" width="6.6" height="90.0" fill="#6e6e6e"/>
<rect x="684.0" y="146.5" width="32.0" height="7.0" fill="#6e6e6e"/>
<rect x="684.0" y="236.5" width="32.0" height="7.0" fill="#6e6e6e"/>
<rect x="970.3" y="211.0" width="6.0" height="88.0" fill="#d6d6d6"/>
<rect x="964.2" y="209.0" width="6.6" height="92.0" fill="#6e6e6e"/>
<rect x="951.5" y="205.5" width="32.0" height="7.0" fill="#6e6e6e"/>
<rect x="951.5" y="297.5" width="32.0" height="7.0" fill="#6e6e6e"/>
<rect x="1236.3" y="77.0" width="6.0" height="84.0" fill="#d6d6d6"/>
<rect x="1230.2" y="75.0" width="6.6" height="88.0" fill="#6e6e6e"/>
<rect x="1217.5" y="71.5" width="32.0" height="7.0" fill="#6e6e6e"/>
<rect x="1217.5" y="159.5" width="32.0" height="7.0" fill="#6e6e6e"/>
<rect x="1502.8" y="446.0" width="6.0" height="88.0" fill="#d6d6d6"/>
<rect x="1496.7" y="444.0" width="6.6" height="92.0" fill="#6e6e6e"/>
<rect x="1484.0" y="440.5" width="32.0" height="7.0" fill="#6e6e6e"/>
<rect x="1484.0" y="532.5" width="32.0" height="7.0" fill="#6e6e6e"/>
<rect x="1771.3" y="58.0" width="6.0" height="87.5" fill="#d6d6d6"/>
<rect x="1765.2" y="56.0" width="6.6" height="91.5" fill="#6e6e6e"/>
<rect x="1752.5" y="52.5" width="32.0" height="7.0" fill="#6e6e6e"/>
<rect x="1752.5" y="144.0" width="32.0" height="7.0" fill="#6e6e6e"/>
<rect x="2039.8" y="212.0" width="6.0" height="84.0" fill="#d6d6d6"/>
<rect x="2033.7" y="210.0" width="6.6" height="88.0" fill="#6e6e6e"/>
<rect x="2021.0" y="206.5" width="32.0" height="7.0" fill="#6e6e6e"/>
<rect x="2021.0" y="294.5" width="32.0" height="7.0" fill="#6e6e6e"/>
<rect x="2304.8" y="246.0" width="6.0" height="87.0" fill="#d6d6d6"/>
<rect x="2298.7" y="244.0" width="6.6" height="91.0" fill="#6e6e6e"/>
<rect x="2286.0" y="240.5" width="32.0" height="7.0" fill="#6e6e6e"/>
<rect x="2286.0" y="331.5" width="32.0" height="7.0" fill="#6e6e6e"/>
<rect x="278.0" y="776.0" width="2156.0" height="11.5" fill="#5a5a5a"/>
<rect x="278.0" y="776.0" width="2156.0" height="6.0" fill="#333"/>
<rect x="296.0" y="50.0" width="6.0" height="732.0" fill="#151515"/>
<rect x="278.0" y="50.0" width="19.0" height="6.0" fill="#333"/>
<rect x="278.0" y="141.1" width="19.0" height="6.0" fill="#333"/>
<rect x="278.0" y="232.1" width="19.0" height="6.0" fill="#333"/>
<rect x="278.0" y="323.2" width="19.0" height="6.0" fill="#333"/>
<rect x="278.0" y="414.2" width="19.0" height="6.0" fill="#333"/>
<rect x="278.0" y="505.3" width="19.0" height="6.0" fill="#333"/>
<rect x="278.0" y="596.4" width="19.0" height="6.0" fill="#333"/>
<rect x="278.0" y="687.4" width="19.0" height="6.0" fill="#333"/>
<rect x="278.0" y="778.5" width="19.0" height="6.0" fill="#333"/>
<rect x="646.0" y="906.0" width="637.5" height="8.0" fill="#5c5c5c"/>
<rect x="1703.0" y="906.0" width="637.5" height="12.0" fill="#9a9a9a"/>
<rect x="396.0" y="1864.5" width="6.2" height="124.5" fill="#d0d0d0"/>
<rect x="389.8" y="1862.5" width="6.5" height="128.5" fill="#727272"/>
<rect x="381.0" y="1859.5" width="30.0" height="6.0" fill="#727272"/>
<rect x="381.0" y="1988.0" width="30.0" height="6.0" fill="#727272"/>
<rect x="671.0" y="1854.5" width="6.2" height="123.5" fill="#d0d0d0"/>
<rect x="664.8" y="1852.5" width="6.5" height="127.5" fill="#727272"/>
<rect x="656.0" y="1849.5" width="30.0" height="6.0" fill="#727272"/>
<rect x="656.0" y="1977.0" width="30.0" height="6.0" fill="#727272"/>
<rect x="946.0" y="1879.5" width="6.2" height="127.5" fill="#d0d0d0"/>
<rect x="939.8" y="1877.5" width="6.5" height="131.5" fill="#727272"/>
<rect x="931.0" y="1874.5" width="30.0" height="6.0" fill="#727272"/>
<rect x="931.0" y="2006.0" width="30.0" height="6.0" fill="#727272"/>
<rect x="1221.0" y="1809.5" width="6.2" height="124.5" fill="#d0d0d0"/>
<rect x="1214.8" y="1807.5" width="6.5" height="128.5" fill="#727272"/>
<rect x="1206.0" y="1804.5" width="30.0" height="6.0" fill="#727272"/>
<rect x="1206.0" y="1933.0" width="30.0" height="6.0" fill="#727272"/>
<rect x="1496.5" y="1349.5" width="6.2" height="121.0" fill="#d0d0d0"/>
<rect x="1490.3" y="1347.5" width="6.5" height="125.0" fill="#727272"/>
<rect x="1481.5" y="1344.5" width="30.0" height="6.0" fill="#727272"/>
<rect x="1481.5" y="1469.5" width="30.0" height="6.0" fill="#727272"/>
<rect x="1773.0" y="1730.5" width="6.2" height="122.5" fill="#d0d0d0"/>
<rect x="1766.8" y="1728.5" width="6.5" height="126.5" fill="#727272"/>
<rect x="1758.0" y="1725.5" width="30.0" height="6.0" fill="#727272"/>
<rect x="1758.0" y="1852.0" width="30.0" height="6.0" fill="#727272"/>
<rect x="2047.0" y="1633.0" width="6.2" height="125.0" fill="#d0d0d0"/>
<rect x="2040.8" y="1631.0" width="6.5" height="129.0" fill="#727272"/>
<rect x="2032.0" y="1628.0" width="30.0" height="6.0" fill="#727272"/>
<rect x="2032.0" y="1757.0" width="30.0" height="6.0" fill="#727272"/>
<rect x="2322.0" y="1633.0" width="6.2" height="125.0" fill="#d0d0d0"/>
<rect x="2315.8" y="1631.0" width="6.5" height="129.0" fill="#727272"/>
<rect x="2307.0" y="1628.0" width="30.0" height="6.0" fill="#727272"/>
<rect x="2307.0" y="1757.0" width="30.0" height="6.0" fill="#727272"/>
<rect x="278.5" y="2101.0" width="2164.5" height="12.0" fill="#5f5f5f"/>
<rect x="291.0" y="1232.0" width="11.0" height="875.0" fill="#505050"/>
<rect x="278.0" y="1232.0" width="14.0" height="6.0" fill="#333"/>
<rect x="278.0" y="1341.0" width="14.0" height="6.0" fill="#333"/>
<rect x="278.0" y="1450.0" width="14.0" height="6.0" fill="#333"/>
<rect x="278.0" y="1559.0" width="14.0" height="6.0" fill="#333"/>
<rect x="278.0" y="1668.0" width="14.0" height="6.0" fill="#333"/>
<rect x="278.0" y="1777.0" width="14.0" height="6.0" fill="#333"/>
<rect x="278.0" y="1886.0" width="14.0" height="6.0" fill="#333"/>
<rect x="278.0" y="1995.0" width="14.0" height="6.0" fill="#333"/>
<rect x="278.0" y="2104.0" width="14.0" height="6.0" fill="#333"/>
<rect x="632.5" y="2231.0" width="632.5" height="13.0" fill="#8a8a8a"/>
<rect x="632.5" y="2231.0" width="632.5" height="7.0" fill="#333"/>
<rect x="1753.0" y="2226.0" width="635.0" height="13.0" fill="#bdbdbd"/>
<rect x="1753.0" y="2232.0" width="635.0" height="7.0" fill="#151515"/>
<rect x="376.2" y="3237.0" width="6.0" height="110.0" fill="#d9d9d9"/>
<rect x="381.7" y="3235.0" width="6.6" height="114.0" fill="#646464"/>
<rect x="370.0" y="3231.5" width="30.0" height="7.0" fill="#646464"/>
<rect x="370.0" y="3345.5" width="30.0" height="7.0" fill="#646464"/>
<rect x="636.2" y="3207.0" width="6.0" height="113.5" fill="#d9d9d9"/>
<rect x="641.7" y="3205.0" width="6.6" height="117.5" fill="#646464"/>
<rect x="630.0" y="3201.5" width="30.0" height="7.0" fill="#646464"/>
<rect x="630.0" y="3319.0" width="30.0" height="7.0" fill="#646464"/>
<rect x="896.2" y="3219.5" width="6.0" height="118.5" fill="#d9d9d9"/>
<rect x="901.7" y="3217.5" width="6.6" height="122.5" fill="#646464"/>
<rect x="890.0" y="3214.0" width="30.0" height="7.0" fill="#646464"/>
<rect x="890.0" y="3336.5" width="30.0" height="7.0" fill="#646464"/>
<rect x="1153.2" y="3212.0" width="6.0" height="113.5" fill="#d9d9d9"/>
<rect x="1158.7" y="3210.0" width="6.6" height="117.5" fill="#646464"/>
<rect x="1147.0" y="3206.5" width="30.0" height="7.0" fill="#646464"/>
<rect x="1147.0" y="3324.0" width="30.0" height="7.0" fill="#646464"/>
<rect x="1422.8" y="2768.0" width="6.0" height="112.5" fill="#d9d9d9"/>
<rect x="1416.7" y="2766.0" width="6.6" height="116.5" fill="#646464"/>
<rect x="1405.0" y="2762.5" width="30.0" height="7.0" fill="#646464"/>
<rect x="1405.0" y="2879.0" width="30.0" height="7.0" fill="#646464"/>
<rect x="1673.0" y="3092.5" width="11.0" height="119.0" fill="#646464"/>
<rect x="1663.5" y="3089.0" width="30.0" height="7.0" fill="#646464"/>
<rect x="1663.5" y="3208.0" width="30.0" height="7.0" fill="#646464"/>
<rect x="1928.2" y="3002.0" width="6.0" height="111.0" fill="#d9d9d9"/>
<rect x="1933.7" y="3000.0" width="6.6" height="115.0" fill="#646464"/>
<rect x="1922.0" y="2996.5" width="30.0" height="7.0" fill="#646464"/>
<rect x="1922.0" y="3111.5" width="30.0" height="7.0" fill="#646464"/>
<rect x="2184.7" y="2983.0" width="6.0" height="114.0" fill="#d9d9d9"/>
<rect x="2190.2" y="2981.0" width="6.6" height="118.0" fill="#646464"/>
<rect x="2178.5" y="2977.5" width="30.0" height="7.0" fill="#646464"/>
<rect x="2178.5" y="3095.5" width="30.0" height="7.0" fill="#646464"/>
<rect x="271.5" y="3345.0" width="2088.5" height="6.5" fill="#6c6c6c"/>
<rect x="290.0" y="2650.0" width="6.0" height="800.0" fill="#5a5a5a"/>
<rect x="271.5" y="2649.5" width="19.5" height="6.0" fill="#8a8a8a"/>
<rect x="271.5" y="2748.8" width="19.5" height="6.0" fill="#8a8a8a"/>
<rect x="271.5" y="2848.1" width="19.5" height="6.0" fill="#8a8a8a"/>
<rect x="271.5" y="2947.4" width="19.5" height="6.0" fill="#8a8a8a"/>
<rect x="271.5" y="3046.8" width="19.5" height="6.0" fill="#8a8a8a"/>
<rect x="271.5" y="3146.1" width="19.5" height="6.0" fill="#8a8a8a"/>
<rect x="271.5" y="3245.4" width="19.5" height="6.0" fill="#8a8a8a"/>
<rect x="271.5" y="3344.7" width="19.5" height="6.0" fill="#8a8a8a"/>
<rect x="271.5" y="3444.0" width="19.5" height="6.0" fill="#8a8a8a"/>
<rect x="597.5" y="3486.0" width="672.5" height="9.0" fill="#7d7d7d"/>
<rect x="1627.0" y="3486.0" width="674.0" height="9.0" fill="#7d7d7d"/>
</g>
<g id="fig" filter="url(#soft)">
<text transform="matrix(0.5133 0 0 0.4789 367.97 475.52)" fill="#37414d" stroke="#37414d" stroke-width="1.2">45,69</text>
<text transform="matrix(0.5021 0 0 0.5211 636.00 510.48)" fill="#37414d" stroke="#37414d" stroke-width="1.2">42,32</text>
<text transform="matrix(0.5083 0 0 0.5352 905.97 539.46)" fill="#37414d" stroke="#37414d" stroke-width="1.2">38,88</text>
<text transform="matrix(0.4979 0 0 0.5070 1172.00 469.49)" fill="#37414d" stroke="#37414d" stroke-width="1.2">46,47</text>
<text transform="matrix(0.5031 0 0 0.5352 1440.48 654.46)" fill="#37414d" stroke="#37414d" stroke-width="1.2">25,99</text>
<text transform="matrix(0.4802 0 0 0.5070 1723.04 462.49)" fill="#37414d" stroke="#37414d" stroke-width="1.2">47,4</text>
<text transform="matrix(0.5083 0 0 0.5493 1971.97 537.45)" fill="#37414d" stroke="#37414d" stroke-width="1.2">39,03</text>
<text transform="matrix(0.4969 0 0 0.5352 2241.01 554.46)" fill="#37414d" stroke="#37414d" stroke-width="1.2">36,99</text>
<text transform="matrix(0.5024 0 0 0.5634 195.99 71.94)" fill="#3d3d3d" stroke="#3d3d3d" stroke-width="1.2">50</text>
<text transform="matrix(0.4952 0 0 0.5634 197.01 163.00)" fill="#3d3d3d" stroke="#3d3d3d" stroke-width="1.2">45</text>
<text transform="matrix(0.4929 0 0 0.5634 197.01 254.06)" fill="#3d3d3d" stroke="#3d3d3d" stroke-width="1.2">40</text>
<text transform="matrix(0.5049 0 0 0.5634 195.98 345.12)" fill="#3d3d3d" stroke="#3d3d3d" stroke-width="1.2">35</text>
<text transform="matrix(0.5024 0 0 0.5634 195.99 436.19)" fill="#3d3d3d" stroke="#3d3d3d" stroke-width="1.2">30</text>
<text transform="matrix(0.5098 0 0 0.5634 195.45 527.25)" fill="#3d3d3d" stroke="#3d3d3d" stroke-width="1.2">25</text>
<text transform="matrix(0.5073 0 0 0.5634 195.46 618.31)" fill="#3d3d3d" stroke="#3d3d3d" stroke-width="1.2">20</text>
<text transform="matrix(0.5226 0 0 0.5634 194.08 709.37)" fill="#3d3d3d" stroke="#3d3d3d" stroke-width="1.2">15</text>
<text transform="matrix(0.5200 0 0 0.5634 194.10 800.44)" fill="#3d3d3d" stroke="#3d3d3d" stroke-width="1.2">10</text>
<text transform="translate(157.55 630.99) rotate(-90) scale(0.5975 0.5455)" fill="#3a3a3a" stroke="#3a3a3a" stroke-width="1.2">CAT (U/mg prot)</text>
<text transform="matrix(0.3860 0 0 0.5797 421.23 874.00)" fill="#363636" stroke="#363636" stroke-width="1.2">T</text>
<text transform="matrix(0.4507 0 0 0.5797 653.77 874.00)" fill="#363636" stroke="#363636" stroke-width="1.2">WPL</text>
<text transform="matrix(0.4209 0 0 0.5634 925.90 873.44)" fill="#363636" stroke="#363636" stroke-width="1.2">CPL</text>
<text transform="matrix(0.4410 0 0 0.5797 1193.47 874.00)" fill="#363636" stroke="#363636" stroke-width="1.2">BPL</text>
<text transform="matrix(0.4612 0 0 0.5442 1470.69 873.46)" fill="#363636" stroke="#363636" stroke-width="1.2">Cd</text>
<text transform="matrix(0.4646 0 0 0.5442 1677.68 873.46)" fill="#363636" stroke="#363636" stroke-width="1.2">Cd+WPL</text>
<text transform="matrix(0.4416 0 0 0.5442 1952.79 873.46)" fill="#363636" stroke="#363636" stroke-width="1.2">Cd+CPL</text>
<text transform="matrix(0.4428 0 0 0.5442 2217.79 873.46)" fill="#363636" stroke="#363636" stroke-width="1.2">Cd+BPL</text>
<text transform="matrix(0.5497 0 0 0.6154 341.25 1009.08)" fill="#363636" stroke="#363636" stroke-width="1.2">Groupe 1</text>
<text transform="matrix(0.5491 0 0 0.6154 875.25 1009.08)" fill="#363636" stroke="#363636" stroke-width="1.2">Groupe 2</text>
<text transform="matrix(0.5564 0 0 0.6154 1392.22 1009.08)" fill="#363636" stroke="#363636" stroke-width="1.2">Groupe 3</text>
<text transform="matrix(0.5501 0 0 0.6154 1927.25 1009.08)" fill="#363636" stroke="#363636" stroke-width="1.2">Groupe 4</text>
<text transform="matrix(0.5049 0 0 0.5634 195.73 1253.94)" fill="#3d3d3d" stroke="#3d3d3d" stroke-width="1.2">80</text>
<text transform="matrix(0.5073 0 0 0.5634 195.46 1362.94)" fill="#3d3d3d" stroke="#3d3d3d" stroke-width="1.2">70</text>
<text transform="matrix(0.5073 0 0 0.5634 195.46 1471.94)" fill="#3d3d3d" stroke="#3d3d3d" stroke-width="1.2">60</text>
<text transform="matrix(0.5024 0 0 0.5634 195.99 1580.94)" fill="#3d3d3d" stroke="#3d3d3d" stroke-width="1.2">50</text>
<text transform="matrix(0.4929 0 0 0.5634 197.01 1689.94)" fill="#3d3d3d" stroke="#3d3d3d" stroke-width="1.2">40</text>
<text transform="matrix(0.5024 0 0 0.5634 195.99 1798.94)" fill="#3d3d3d" stroke="#3d3d3d" stroke-width="1.2">30</text>
<text transform="matrix(0.5073 0 0 0.5634 195.46 1907.94)" fill="#3d3d3d" stroke="#3d3d3d" stroke-width="1.2">20</text>
<text transform="matrix(0.5200 0 0 0.5634 194.10 2016.94)" fill="#3d3d3d" stroke="#3d3d3d" stroke-width="1.2">10</text>
<text transform="matrix(0.4896 0 0 0.5634 220.04 2125.94)" fill="#3d3d3d" stroke="#3d3d3d" stroke-width="1.2">0</text>
<text transform="translate(157.55 1889.68) rotate(-90) scale(0.5950 0.5455)" fill="#3a3a3a" stroke="#3a3a3a" stroke-width="1.2">SOD (U/mg prot)</text>
<text transform="matrix(0.3947 0 0 0.5725 421.21 2199.00)" fill="#363636" stroke="#363636" stroke-width="1.2">T</text>
<text transform="matrix(0.4460 0 0 0.5725 661.78 2199.00)" fill="#363636" stroke="#363636" stroke-width="1.2">WPL</text>
<text transform="matrix(0.4209 0 0 0.5563 944.90 2198.44)" fill="#363636" stroke="#363636" stroke-width="1.2">CPL</text>
<text transform="matrix(0.4410 0 0 0.5725 1218.47 2199.00)" fill="#363636" stroke="#363636" stroke-width="1.2">BPL</text>
<text transform="matrix(0.4612 0 0 0.5374 1508.19 2198.46)" fill="#363636" stroke="#363636" stroke-width="1.2">Cd</text>
<text transform="matrix(0.4646 0 0 0.5374 1717.68 2198.46)" fill="#363636" stroke="#363636" stroke-width="1.2">Cd+WPL</text>
<text transform="matrix(0.4389 0 0 0.5374 2003.81 2198.46)" fill="#363636" stroke="#363636" stroke-width="1.2">Cd+CPL</text>
<text transform="matrix(0.4428 0 0 0.5374 2278.79 2198.46)" fill="#363636" stroke="#363636" stroke-width="1.2">Cd+BPL</text>
<text transform="matrix(0.5485 0 0 0.5989 321.76 2351.42)" fill="#363636" stroke="#363636" stroke-width="1.2">Groupe 1</text>
<text transform="matrix(0.5467 0 0 0.5989 837.77 2351.42)" fill="#363636" stroke="#363636" stroke-width="1.2">Groupe 2</text>
<text transform="matrix(0.5515 0 0 0.5989 1419.24 2351.42)" fill="#363636" stroke="#363636" stroke-width="1.2">Groupe 3</text>
<text transform="matrix(0.5465 0 0 0.5989 1932.27 2351.42)" fill="#363636" stroke="#363636" stroke-width="1.2">Groupe 4</text>
<text transform="matrix(0.5420 0 0 0.6338 158.83 2674.87)" fill="#3d3d3d" stroke="#3d3d3d" stroke-width="1.2">3,5</text>
<text transform="matrix(0.5684 0 0 0.6338 202.73 2774.18)" fill="#3d3d3d" stroke="#3d3d3d" stroke-width="1.2">3</text>
<text transform="matrix(0.5462 0 0 0.6338 158.27 2873.49)" fill="#3d3d3d" stroke="#3d3d3d" stroke-width="1.2">2,5</text>
<text transform="matrix(0.5495 0 0 0.6338 204.25 2972.80)" fill="#3d3d3d" stroke="#3d3d3d" stroke-width="1.2">2</text>
<text transform="matrix(0.5333 0 0 0.6338 160.00 3072.12)" fill="#3d3d3d" stroke="#3d3d3d" stroke-width="1.2">1,5</text>
<text transform="matrix(0.5057 0 0 0.6338 206.21 3171.43)" fill="#3d3d3d" stroke="#3d3d3d" stroke-width="1.2">1</text>
<text transform="matrix(0.5573 0 0 0.6338 156.77 3270.74)" fill="#3d3d3d" stroke="#3d3d3d" stroke-width="1.2">0,5</text>
<text transform="matrix(0.5833 0 0 0.6338 201.67 3370.05)" fill="#3d3d3d" stroke="#3d3d3d" stroke-width="1.2">0</text>
<text transform="matrix(0.6575 0 0 0.6338 126.54 3467.37)" fill="#3d3d3d" stroke="#3d3d3d" stroke-width="1.2">-0,5</text>
<text transform="translate(99.75 3352.45) rotate(-90) scale(0.6814 0.6310)" fill="#1c1c1c" stroke="#1c1c1c" stroke-width="1.2">MDA (nmol/mg prot)</text>
<text transform="matrix(0.4737 0 0 0.6449 410.05 3449.00)" fill="#363636" stroke="#363636" stroke-width="1.2">T</text>
<text transform="matrix(0.4977 0 0 0.6449 629.25 3449.00)" fill="#363636" stroke="#363636" stroke-width="1.2">WPL</text>
<text transform="matrix(0.4799 0 0 0.6268 894.60 3448.37)" fill="#363636" stroke="#363636" stroke-width="1.2">CPL</text>
<text transform="matrix(0.5000 0 0 0.6449 1150.00 3449.00)" fill="#363636" stroke="#363636" stroke-width="1.2">BPL</text>
<text transform="matrix(0.5172 0 0 0.6054 1425.41 3448.39)" fill="#363636" stroke="#363636" stroke-width="1.2">Cd</text>
<text transform="matrix(0.5190 0 0 0.6054 1612.41 3448.39)" fill="#363636" stroke="#363636" stroke-width="1.2">Cd+WPL</text>
<text transform="matrix(0.4940 0 0 0.6054 1877.53 3448.39)" fill="#363636" stroke="#363636" stroke-width="1.2">Cd+CPL</text>
<text transform="matrix(0.5000 0 0 0.6054 2139.00 3448.39)" fill="#363636" stroke="#363636" stroke-width="1.2">Cd+BPL</text>
<text transform="matrix(0.6160 0 0 0.6209 288.92 3597.96)" fill="#363636" stroke="#363636" stroke-width="1.2">Groupe 1</text>
<text transform="matrix(0.6290 0 0 0.6209 794.86 3597.96)" fill="#363636" stroke="#363636" stroke-width="1.2">Groupe 2</text>
<text transform="matrix(0.6176 0 0 0.6209 1334.91 3597.96)" fill="#363636" stroke="#363636" stroke-width="1.2">Groupe 3</text>
<text transform="matrix(0.6320 0 0 0.6209 1888.34 3597.96)" fill="#363636" stroke="#363636" stroke-width="1.2">Groupe 4</text>
</g>
<g id="labels">
<text transform="matrix(1.3958 0 0 1.4624 1495.21 434.22)" fill="#ff0000" class="dv" font-weight="bold">*</text>
<text transform="matrix(0.9074 0 0 0.8352 10.92 92.04)" fill="#26211d" class="sf" font-weight="bold">(a)</text>
<text transform="matrix(0.7341 0 0 0.6963 315.26 1847.80)" fill="#1c1c28" class="sf">16.33</text>
<text transform="matrix(0.7388 0 0 0.7259 590.22 1836.77)" fill="#1c1c28" class="sf">17.33</text>
<text transform="matrix(0.7571 0 0 0.7111 903.06 1860.79)" fill="#1c1c28" class="sf">16</text>
<text transform="matrix(0.7529 0 0 0.7111 1138.11 1792.79)" fill="#1c1c28" class="sf">21.33</text>
<text transform="matrix(0.7619 0 0 0.7185 1457.45 1336.78)" fill="#1c1c28" class="sf">64</text>
<text transform="matrix(0.7869 0 0 0.7111 1738.46 1711.29)" fill="#1c1c28" class="sf">29</text>
<text transform="matrix(0.7678 0 0 0.7185 1956.04 1611.78)" fill="#1c1c28" class="sf">37.66</text>
<text transform="matrix(0.7678 0 0 0.7185 2231.04 1611.78)" fill="#1c1c28" class="sf">37.66</text>
<text transform="matrix(1.3125 0 0 1.4624 1468.38 1296.72)" fill="#ff0000" class="dv" font-weight="bold">*</text>
<text transform="matrix(0.8722 0 0 0.8791 30.07 1185.10)" fill="#26211d" class="sf" font-weight="bold">(b)</text>
<text transform="matrix(0.7642 0 0 0.7111 332.44 3223.79)" fill="#1c1c28" class="sf">0.28</text>
<text transform="matrix(0.7605 0 0 0.7111 593.46 3192.79)" fill="#1c1c28" class="sf">0.43</text>
<text transform="matrix(0.7493 0 0 0.7111 858.50 3205.29)" fill="#1c1c28" class="sf">0.34</text>
<text transform="matrix(0.7582 0 0 0.7111 1108.47 3198.79)" fill="#1c1c28" class="sf">0.38</text>
<text transform="matrix(0.7604 0 0 0.7185 1375.58 2755.28)" fill="#1c1c28" class="sf">2.64</text>
<text transform="matrix(0.7642 0 0 0.7185 1632.44 3080.28)" fill="#1c1c28" class="sf">0.98</text>
<text transform="matrix(0.7508 0 0 0.7185 1890.12 2986.78)" fill="#1c1c28" class="sf">1.45</text>
<text transform="matrix(0.7706 0 0 0.7111 2151.95 2968.79)" fill="#1c1c28" class="sf">1.56</text>
<text transform="matrix(1.2812 0 0 1.4624 1400.94 2721.72)" fill="#ff0000" class="dv" font-weight="bold">*</text>
<text transform="matrix(0.9167 0 0 0.9066 60.38 2502.51)" fill="#26211d" class="sf" font-weight="bold">(c)</text>
</g>
</svg>
</body>
</html>
